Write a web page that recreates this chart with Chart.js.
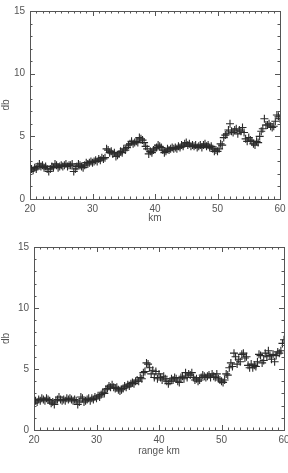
<!DOCTYPE html>
<html>
<head>
<meta charset="utf-8">
<script src="https://cdn.jsdelivr.net/npm/chart.js@4.4.0/dist/chart.umd.min.js"></script>
<style>
    html, body { margin: 0; padding: 0; background: #fff; overflow: hidden; width: 288px; height: 473px; }
    canvas { position: absolute; left: 0; }
    #topChart { top: 0; }
    #bottomChart { top: 236px; }
</style>
</head>
<body>
<canvas id="topChart" width="300" height="236"></canvas>
<canvas id="bottomChart" width="300" height="237"></canvas>
<script>
// range in km (sample positions)
const rangeKm = [
    20, 20.25, 20.5, 20.75, 21, 21.25, 21.5, 21.75, 22, 22.25, 22.5, 22.75,
    23, 23.25, 23.5, 23.75, 24, 24.25, 24.5, 24.75, 25, 25.25, 25.5, 25.75,
    26, 26.25, 26.5, 26.75, 27, 27.25, 27.5, 27.75, 28, 28.25, 28.5, 28.75,
    29, 29.25, 29.5, 29.75, 30, 30.25, 30.5, 30.75, 31, 31.25, 31.5, 31.75,
    32, 32.25, 32.5, 32.75, 33, 33.25, 33.5, 33.75, 34, 34.25, 34.5, 34.75,
    35, 35.25, 35.5, 35.75, 36, 36.25, 36.5, 36.75, 37, 37.25, 37.5, 37.75,
    38, 38.25, 38.5, 38.75, 39, 39.25, 39.5, 39.75, 40, 40.25, 40.5, 40.75,
    41, 41.25, 41.5, 41.75, 42, 42.25, 42.5, 42.75, 43, 43.25, 43.5, 43.75,
    44, 44.25, 44.5, 44.75, 45, 45.25, 45.5, 45.75, 46, 46.25, 46.5, 46.75,
    47, 47.25, 47.5, 47.75, 48, 48.25, 48.5, 48.75, 49, 49.25, 49.5, 49.75,
    50, 50.25, 50.5, 50.75, 51, 51.25, 51.5, 51.75, 52, 52.25, 52.5, 52.75,
    53, 53.25, 53.5, 53.75, 54, 54.25, 54.5, 54.75, 55, 55.25, 55.5, 55.75,
    56, 56.25, 56.5, 56.75, 57, 57.25, 57.5, 57.75, 58, 58.25, 58.5, 58.75,
    59, 59.25, 59.5, 59.75, 60
];

// upper panel, db
const topDb = [
    2.2, 2.4, 2.3, 2.5, 2.4, 2.6, 2.8, 2.6, 2.7, 2.5, 2.6, 2.4,
    2.2, 2.4, 2.6, 2.5, 2.8, 2.7, 2.5, 2.6, 2.7, 2.6, 2.7, 2.8,
    2.6, 2.7, 2.7, 2.8, 2.2, 2.4, 2.6, 2.8, 2.7, 2.6, 2.5, 2.7,
    2.9, 2.8, 2.9, 3.0, 2.9, 3.0, 3.1, 3.0, 3.2, 3.1, 3.3, 3.2,
    3.3, 4.0, 3.9, 3.7, 3.8, 3.6, 3.7, 3.4, 3.5, 3.6, 3.8, 3.7,
    4.0, 3.9, 4.1, 4.3, 4.4, 4.6, 4.4, 4.5, 4.6, 4.5, 4.9, 4.8,
    4.7, 4.5, 4.2, 4.0, 3.6, 3.8, 3.7, 3.9, 4.0, 4.1, 4.3, 4.2,
    4.1, 3.9, 3.7, 3.8, 4.0, 3.9, 4.0, 4.1, 4.0, 4.1, 4.0, 4.2,
    4.1, 4.3, 4.2, 4.4, 4.5, 4.3, 4.4, 4.2, 4.3, 4.2, 4.3, 4.1,
    4.2, 4.3, 4.1, 4.3, 4.4, 4.2, 4.3, 4.1, 4.2, 4.0, 3.8, 3.9,
    3.8, 4.0, 4.4, 4.3, 4.9, 5.1, 5.2, 5.5, 6.0, 5.4, 5.3, 5.5,
    5.6, 5.2, 5.5, 5.4, 5.7, 5.3, 4.8, 4.6, 4.9, 4.7, 4.6, 4.4,
    4.3, 4.6, 4.5, 5.0, 5.4, 5.6, 6.4, 5.9, 5.9, 6.0, 5.8, 5.7,
    5.8, 6.2, 6.7, 6.6, 6.4
];

// lower panel, db
const bottomDb = [
    2.2, 2.4, 2.3, 2.5, 2.4, 2.6, 2.5, 2.4, 2.6, 2.5, 2.4, 2.2,
    2.3, 2.1, 2.4, 2.5, 2.7, 2.5, 2.4, 2.5, 2.4, 2.6, 2.5, 2.6,
    2.5, 2.4, 2.5, 2.4, 2.1, 2.3, 2.7, 2.6, 2.3, 2.4, 2.5, 2.6,
    2.4, 2.6, 2.5, 2.7, 2.6, 2.8, 2.7, 2.9, 3.1, 3.0, 3.3, 3.4,
    3.6, 3.5, 3.7, 3.5, 3.4, 3.5, 3.3, 3.2, 3.3, 3.4, 3.6, 3.5,
    3.7, 3.6, 3.8, 3.9, 3.8, 4.0, 4.1, 4.0, 4.3, 4.2, 4.7, 4.8,
    5.5, 5.4, 5.1, 4.6, 4.9, 4.3, 4.8, 4.2, 4.6, 4.3, 4.1, 4.4,
    4.2, 4.0, 3.8, 4.0, 4.2, 4.1, 4.3, 4.2, 4.0, 3.9, 4.3, 4.4,
    4.2, 4.7, 4.3, 4.6, 4.5, 4.7, 4.3, 4.1, 4.2, 4.0, 4.1, 4.3,
    4.5, 4.4, 4.3, 4.4, 4.5, 4.3, 4.6, 4.4, 4.3, 4.6, 4.2, 4.1,
    4.0, 3.9, 4.1, 4.6, 4.5, 5.1, 5.5, 5.2, 6.3, 6.0, 5.4, 5.8,
    5.6, 6.2, 6.3, 5.9, 6.0, 5.3, 5.1, 5.4, 5.1, 5.3, 5.2, 5.6,
    6.2, 6.1, 5.5, 5.7, 6.3, 6.0, 6.5, 6.1, 5.8, 6.2, 5.6, 6.1,
    6.4, 6.3, 6.5, 7.1, 7.4
];

const xTicks = [20, 30, 40, 50, 60];
const yTicks = [0, 5, 10, 15];

const inkColor = '#555';
const markColor = '#2a2a2a';
const labelFont = { family: 'Liberation Sans, Arial, sans-serif', size: 10 };

// box frame with inward ticks on all four sides, like the old plotting packages
const framePlugin = {
    id: 'frame',
    afterDraw(chart) {
        const { ctx, chartArea: a, scales } = chart;
        const xs = scales.x, ys = scales.y;
        ctx.save();
        ctx.strokeStyle = inkColor;
        ctx.lineWidth = 1;
        ctx.strokeRect(Math.round(a.left) + 0.5, Math.round(a.top) + 0.5,
            Math.round(a.right - a.left), Math.round(a.bottom - a.top));
        ctx.beginPath();
        for (let km = xs.min; km <= xs.max; km++) {
            const px = Math.round(xs.getPixelForValue(km)) + 0.5;
            const len = km % 10 === 0 ? 5 : 2.5;
            ctx.moveTo(px, a.bottom); ctx.lineTo(px, a.bottom - len);
            ctx.moveTo(px, a.top); ctx.lineTo(px, a.top + len);
        }
        for (let db = ys.min; db <= ys.max; db++) {
            const py = Math.round(ys.getPixelForValue(db)) + 0.5;
            const len = db % 5 === 0 ? 5 : 2.5;
            ctx.moveTo(a.left, py); ctx.lineTo(a.left + len, py);
            ctx.moveTo(a.right, py); ctx.lineTo(a.right - len, py);
        }
        ctx.stroke();
        ctx.restore();
    }
};

function makePanel(canvasId, values, xTitle, opts) {
    const ctx = document.getElementById(canvasId);
    return new Chart(ctx, {
        type: 'scatter',
        data: {
            datasets: [{
                data: rangeKm.map((km, i) => ({ x: km, y: values[i] })),
                pointStyle: 'cross',
                pointRadius: 4,
                borderColor: markColor,
                borderWidth: 1.1,
                backgroundColor: markColor
            }]
        },
        options: {
            responsive: false,
            animation: false,
            layout: { padding: opts.padding },
            plugins: { legend: { display: false }, tooltip: { enabled: false } },
            scales: {
                x: {
                    type: 'linear',
                    min: 20,
                    max: 60,
                    afterBuildTicks: s => { s.ticks = xTicks.map(v => ({ value: v })); },
                    ticks: { color: inkColor, font: labelFont, padding: 4, maxRotation: 0 },
                    grid: { display: false, drawTicks: false },
                    border: { display: false },
                    title: { display: true, text: xTitle, color: inkColor, font: labelFont, padding: 0 },
                    afterFit: s => { s.height = opts.xHeight; }
                },
                y: {
                    type: 'linear',
                    min: 0,
                    max: 15,
                    afterBuildTicks: s => { s.ticks = yTicks.map(v => ({ value: v })); },
                    ticks: { color: inkColor, font: labelFont, padding: 5 },
                    grid: { display: false, drawTicks: false },
                    border: { display: false },
                    title: { display: true, text: 'db', color: inkColor, font: labelFont, padding: 0 },
                    afterFit: s => { s.width = opts.yWidth; }
                }
            }
        },
        plugins: [framePlugin]
    });
}

makePanel('topChart', topDb, 'km', {
    padding: { left: 0, top: 9, right: 20, bottom: 12 },
    xHeight: 25,
    yWidth: 30
});

makePanel('bottomChart', bottomDb, 'range km', {
    padding: { left: 0, top: 5, right: 16, bottom: 16 },
    xHeight: 27,
    yWidth: 34
});
</script>
</body>
</html>
